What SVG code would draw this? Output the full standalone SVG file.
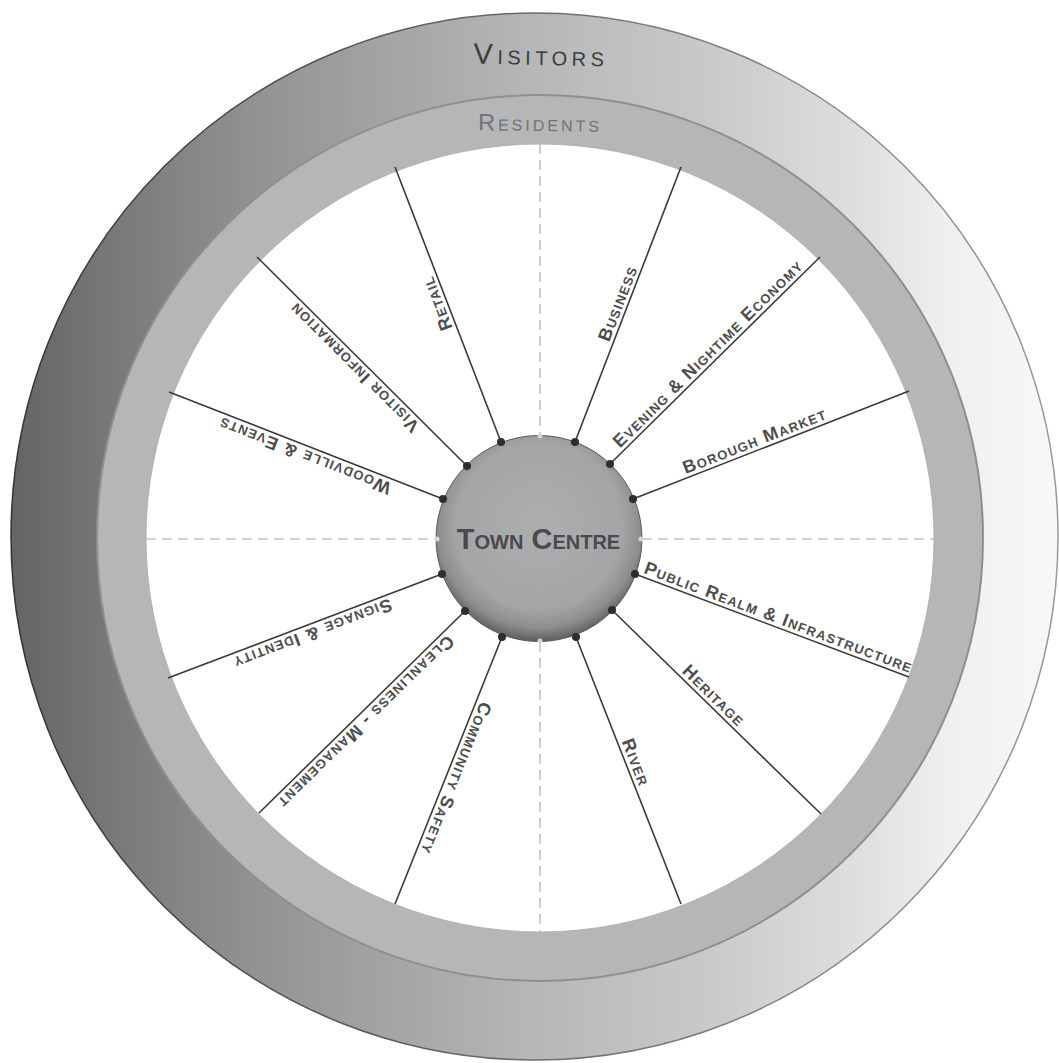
<svg xmlns="http://www.w3.org/2000/svg" width="1059" height="1063" viewBox="0 0 1059 1063">
  <defs>
    <linearGradient id="gOuter" x1="0" y1="0" x2="1" y2="0">
      <stop offset="0" stop-color="#646466"/>
      <stop offset="0.1" stop-color="#79797b"/>
      <stop offset="0.25" stop-color="#949597"/>
      <stop offset="0.5" stop-color="#b6b7b9"/>
      <stop offset="0.65" stop-color="#c6c7c9"/>
      <stop offset="0.8" stop-color="#dcdddf"/>
      <stop offset="0.9" stop-color="#f0f0f0"/>
      <stop offset="1" stop-color="#f8f8f8"/>
    </linearGradient>
    <linearGradient id="gOuterStroke" x1="0" y1="0" x2="1" y2="0">
      <stop offset="0" stop-color="#333"/>
      <stop offset="0.6" stop-color="#777"/>
      <stop offset="1" stop-color="#999"/>
    </linearGradient>
    <radialGradient id="gHub" cx="0.5" cy="0.44" r="0.56">
      <stop offset="0" stop-color="#adaeb0"/>
      <stop offset="0.72" stop-color="#a4a5a7"/>
      <stop offset="0.88" stop-color="#8e8e90"/>
      <stop offset="1" stop-color="#5e5e60"/>
    </radialGradient>
    <style>
      .lbl { font-family: "Liberation Sans", Arial, sans-serif; font-weight: bold; font-size: 18px; font-variant: small-caps; fill: #4d4d4d; letter-spacing: 1.2px; }
      .spoke { stroke: #3a3a3a; stroke-width: 1.6; fill: none; }
      .dot { fill: #2e2e2e; }
      .guide { stroke: #a5a5a5; stroke-width: 1.1; stroke-dasharray: 10 6; fill: none; }
      .ring-title { font-family: "Liberation Sans", Arial, sans-serif; font-variant: small-caps; text-anchor: middle; }
    </style>
  </defs>

  <rect width="1059" height="1063" fill="#ffffff"/>

  <g id="visitors">
    <circle cx="534.5" cy="536.5" r="523.5" fill="url(#gOuter)" stroke="url(#gOuterStroke)" stroke-width="1.5"/>
    <text class="ring-title" x="541" y="65" font-size="29" fill="#3d3d3d" letter-spacing="4.5" transform="rotate(1.2 541 58)">Visitors</text>
  </g>

  <g id="residents">
    <circle cx="540" cy="538" r="443" fill="#b5b6b8" stroke="#8f8f91" stroke-width="2"/>
    <text class="ring-title" x="540" y="131" font-size="23.5" fill="#737375" letter-spacing="3" transform="rotate(0.8 540 125)">Residents</text>
  </g>

  <g id="inner-field">
    <circle cx="540" cy="538" r="394" fill="#ffffff" stroke="#a9a9ab" stroke-width="0.8"/>
  </g>

  <g id="guides">
    <line class="guide" x1="146" y1="539" x2="436" y2="539"/>
    <line class="guide" x1="642" y1="539" x2="934" y2="539"/>
    <line class="guide" x1="540" y1="144" x2="540" y2="435"/>
    <line class="guide" x1="540" y1="642" x2="540" y2="932"/>
  </g>

  <g id="connectors">
    <line class="spoke" x1="501" y1="442" x2="395" y2="167"/>
    <line class="spoke" x1="575" y1="442" x2="681" y2="167"/>
    <line class="spoke" x1="610" y1="464" x2="820" y2="257"/>
    <line class="spoke" x1="633" y1="499" x2="909" y2="391"/>
    <line class="spoke" x1="635" y1="574" x2="909" y2="677"/>
    <line class="spoke" x1="612" y1="610" x2="821" y2="814"/>
    <line class="spoke" x1="576" y1="637" x2="681" y2="904"/>
    <line class="spoke" x1="502" y1="637" x2="395" y2="904"/>
    <line class="spoke" x1="465" y1="611" x2="259" y2="813"/>
    <line class="spoke" x1="442" y1="574" x2="168" y2="678"/>
    <line class="spoke" x1="443" y1="499" x2="169" y2="392"/>
    <line class="spoke" x1="467" y1="466" x2="257" y2="257"/>
  </g>

  <g id="town-centre">
    <circle cx="539" cy="538.5" r="103" fill="url(#gHub)" stroke="#5a5a5c" stroke-width="1"/>
    <text x="538.5" y="549" font-family="Liberation Sans, Arial, sans-serif" font-weight="bold" font-size="29" font-variant="small-caps" fill="#4a4a4c" text-anchor="middle">Town Centre</text>
  </g>

  <g id="hub-marks">
    <circle cx="540" cy="436" r="2.5" fill="#d6d6d6"/>
    <circle cx="641" cy="539" r="2.5" fill="#d6d6d6"/>
    <circle cx="540" cy="641" r="2.5" fill="#d6d6d6"/>
    <circle cx="437" cy="539" r="2.5" fill="#d6d6d6"/>
    <circle class="dot" cx="501" cy="442" r="4"/>
    <circle class="dot" cx="575" cy="442" r="4"/>
    <circle class="dot" cx="610" cy="464" r="4"/>
    <circle class="dot" cx="633" cy="499" r="4"/>
    <circle class="dot" cx="635" cy="574" r="4"/>
    <circle class="dot" cx="612" cy="610" r="4"/>
    <circle class="dot" cx="576" cy="637" r="4"/>
    <circle class="dot" cx="502" cy="637" r="4"/>
    <circle class="dot" cx="465" cy="611" r="4"/>
    <circle class="dot" cx="442" cy="574" r="4"/>
    <circle class="dot" cx="443" cy="499" r="4"/>
    <circle class="dot" cx="467" cy="466" r="4"/>
  </g>

  <g id="retail"><text class="lbl" x="124" y="-4" transform="translate(501 442) rotate(-111.1)">Retail</text></g>
  <g id="business"><text class="lbl" x="105" y="-4" transform="translate(575 442) rotate(-68.9)">Business</text></g>
  <g id="evening-nightime-economy"><text class="lbl" x="18" y="-4" transform="translate(610 464) rotate(-44.6)">Evening &amp; Nightime Economy</text></g>
  <g id="borough-market"><text class="lbl" x="58" y="-4" transform="translate(633 499) rotate(-21.4)">Borough Market</text></g>
  <g id="public-realm"><text class="lbl" x="7" y="-4" transform="translate(635 574) rotate(20.6)">Public Realm &amp; Infrastructure</text></g>
  <g id="heritage"><text class="lbl" x="93" y="-4" transform="translate(612 610) rotate(44.3)">Heritage</text></g>
  <g id="river"><text class="lbl" x="114" y="-4" transform="translate(576 637) rotate(68.5)">River</text></g>
  <g id="community-safety"><text class="lbl" x="67" y="-4" transform="translate(502 637) rotate(111.8)">Community Safety</text></g>
  <g id="cleanliness-management"><text class="lbl" x="29" y="-4" transform="translate(465 611) rotate(135.6)">Cleanliness - Management</text></g>
  <g id="signage-identity"><text class="lbl" x="58" y="-4" transform="translate(442 574) rotate(159.2)">Signage &amp; Identity</text></g>
  <g id="woodville-events"><text class="lbl" x="53" y="-4" transform="translate(443 499) rotate(-158.7)">Woodville &amp; Events</text></g>
  <g id="visitor-information"><text class="lbl" x="62" y="-4" transform="translate(467 466) rotate(-135.1)">Visitor Information</text></g>
</svg>
